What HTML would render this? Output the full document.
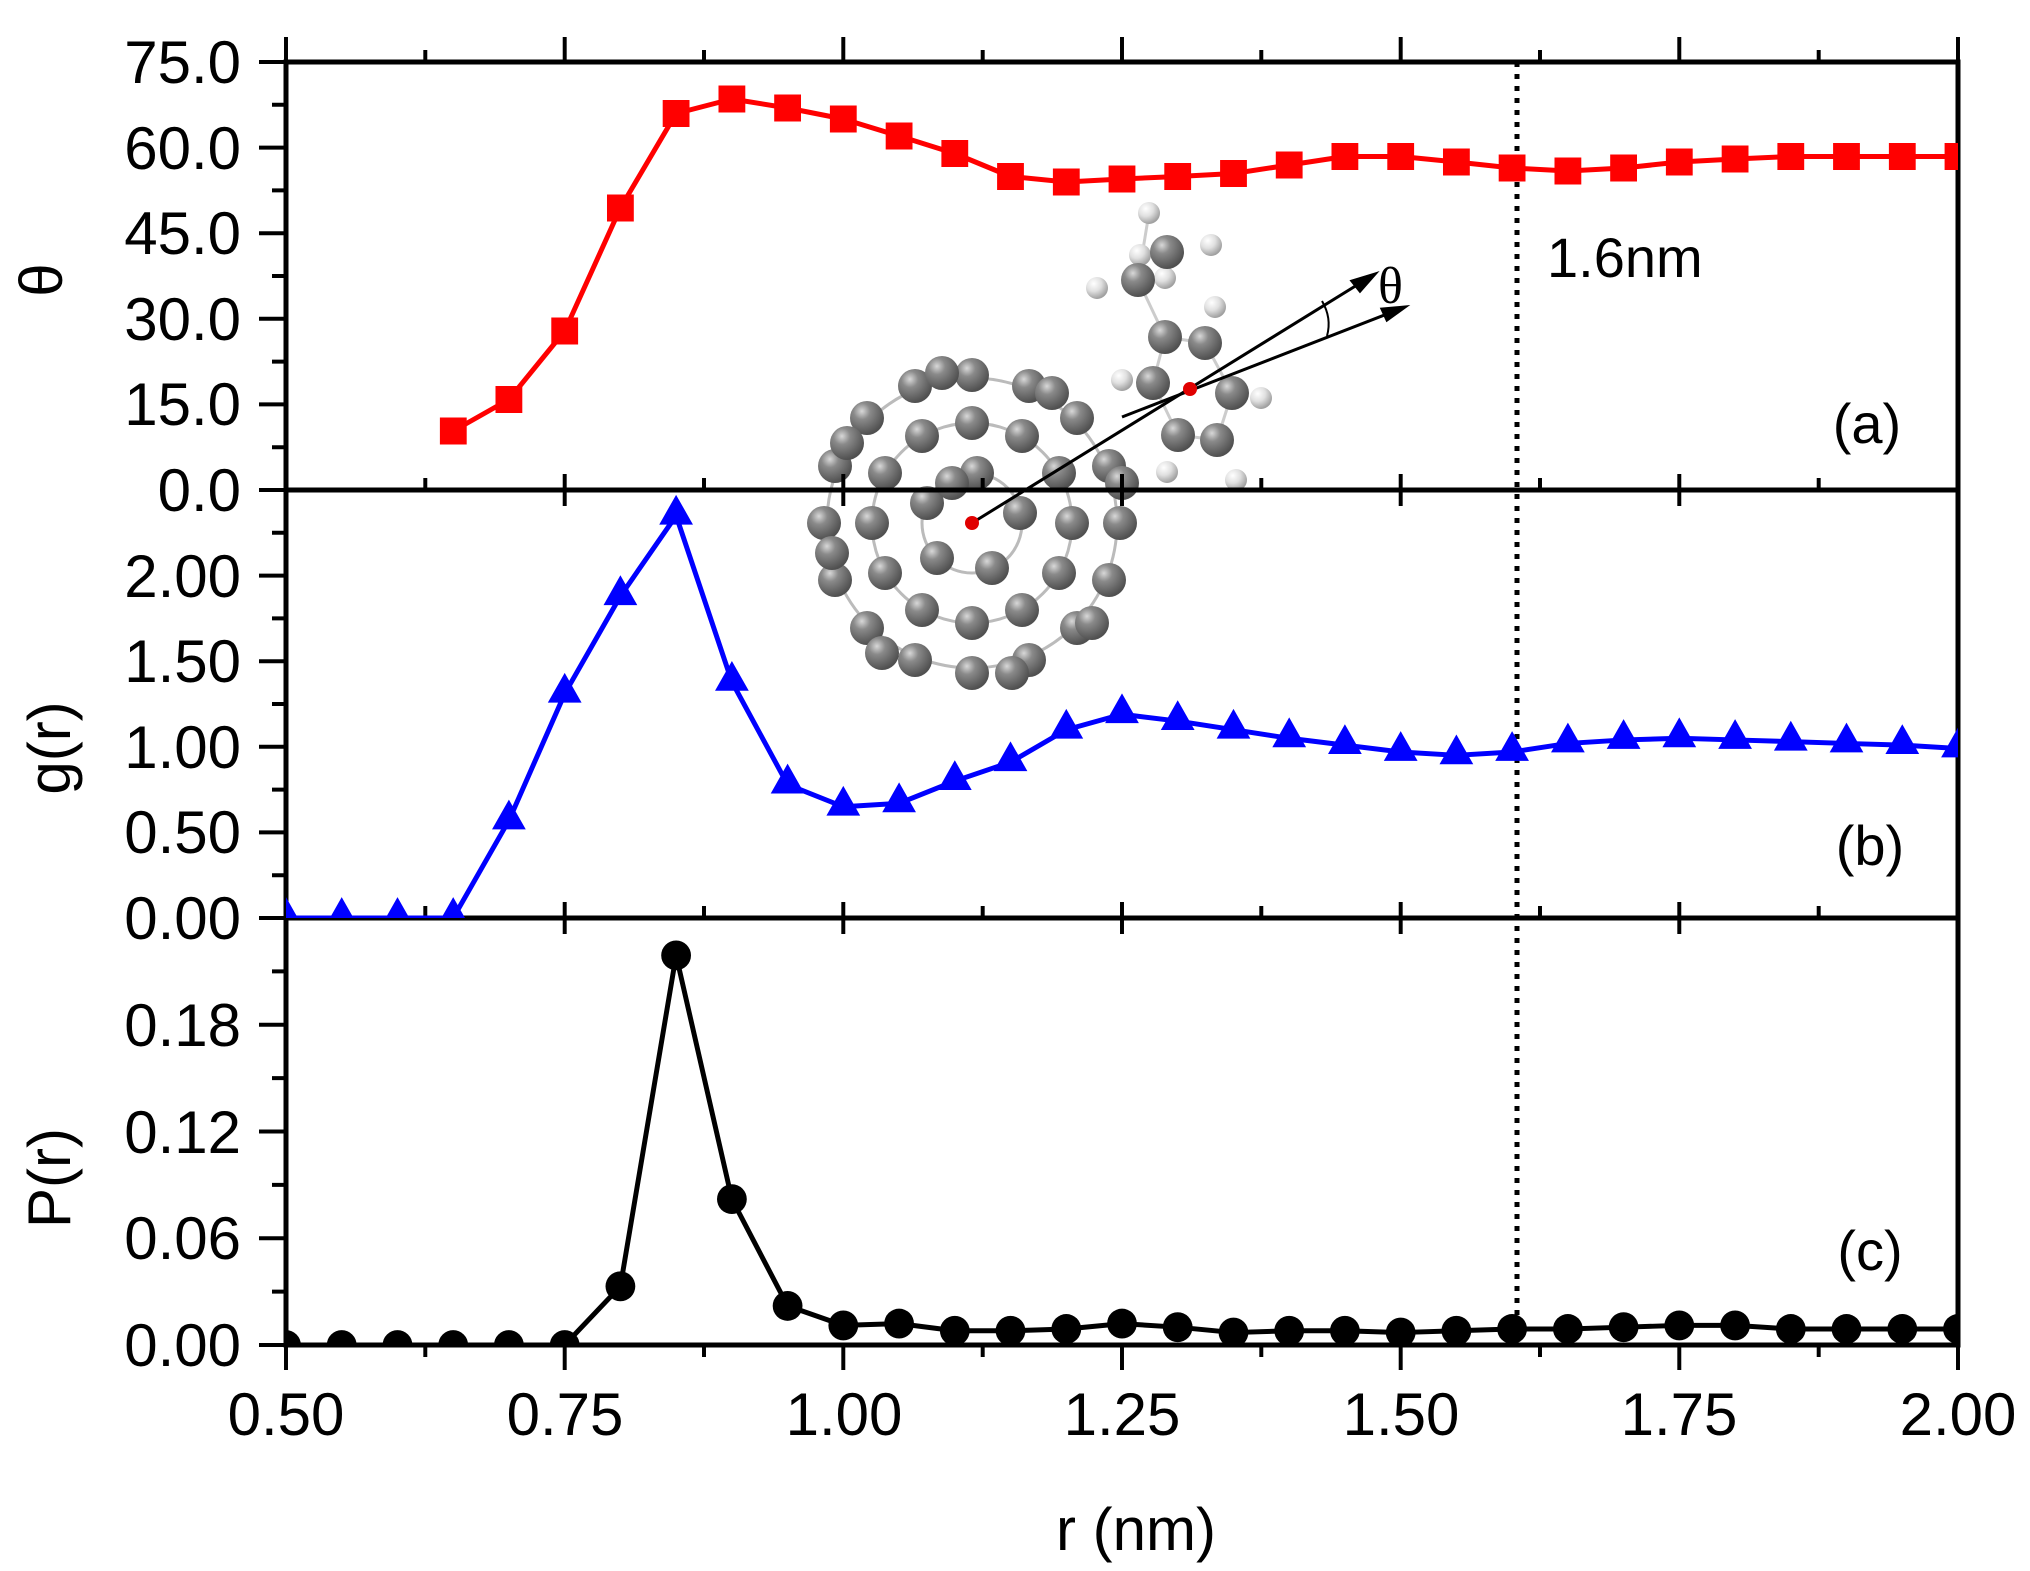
<!DOCTYPE html>
<html><head><meta charset="utf-8"><style>
html,body{margin:0;padding:0;background:#fff}
svg{display:block}
text{font-family:"Liberation Sans",sans-serif}
</style></head><body>
<svg width="2030" height="1571" viewBox="0 0 2030 1571" xmlns="http://www.w3.org/2000/svg">
<defs>
<radialGradient id="gc" cx="35%" cy="30%" r="70%"><stop offset="0" stop-color="#d8d8d8"/><stop offset="0.35" stop-color="#8a8a8a"/><stop offset="1" stop-color="#505050"/></radialGradient>
<radialGradient id="gh" cx="35%" cy="30%" r="70%"><stop offset="0" stop-color="#ffffff"/><stop offset="0.5" stop-color="#e0e0e0"/><stop offset="1" stop-color="#a0a0a0"/></radialGradient>
<circle id="b" r="17" fill="url(#gc)"/>
<circle id="h" r="11" fill="url(#gh)"/>
<clipPath id="ca"><rect x="286" y="62" width="1672" height="428"/></clipPath>
<clipPath id="cb"><rect x="286" y="490" width="1672" height="428"/></clipPath>
<clipPath id="cc"><rect x="286" y="918" width="1672" height="427"/></clipPath>
</defs>

<!-- fullerene -->
<g stroke="#bbb" stroke-width="3" fill="none">
<circle cx="972" cy="523" r="145"/><circle cx="972" cy="523" r="100"/><circle cx="972" cy="523" r="50"/>
</g>
<g transform="translate(972 523)">
<use href="#b" x="148" y="0"/><use href="#b" x="137" y="57"/><use href="#b" x="105" y="105"/><use href="#b" x="57" y="137"/><use href="#b" x="0" y="150"/><use href="#b" x="-57" y="137"/><use href="#b" x="-105" y="105"/><use href="#b" x="-137" y="57"/><use href="#b" x="-148" y="0"/><use href="#b" x="-137" y="-57"/><use href="#b" x="-105" y="-105"/><use href="#b" x="-57" y="-137"/><use href="#b" x="0" y="-148"/><use href="#b" x="57" y="-137"/><use href="#b" x="105" y="-105"/><use href="#b" x="137" y="-57"/>
<use href="#b" x="-125" y="-80"/><use href="#b" x="-140" y="30"/><use href="#b" x="-90" y="130"/><use href="#b" x="40" y="150"/><use href="#b" x="120" y="100"/><use href="#b" x="150" y="-40"/><use href="#b" x="80" y="-130"/><use href="#b" x="-30" y="-150"/>
<use href="#b" x="100" y="0"/><use href="#b" x="87" y="50"/><use href="#b" x="50" y="87"/><use href="#b" x="0" y="100"/><use href="#b" x="-50" y="87"/><use href="#b" x="-87" y="50"/><use href="#b" x="-100" y="0"/><use href="#b" x="-87" y="-50"/><use href="#b" x="-50" y="-87"/><use href="#b" x="0" y="-100"/><use href="#b" x="50" y="-87"/><use href="#b" x="87" y="-50"/>
<use href="#b" x="48" y="-10"/><use href="#b" x="20" y="45"/><use href="#b" x="-35" y="35"/><use href="#b" x="-45" y="-20"/><use href="#b" x="5" y="-50"/><use href="#b" x="-20" y="-40"/>
</g>
<!-- toluene -->
<g stroke="#ccc" stroke-width="3">
<line x1="1165" y1="337" x2="1138" y2="280"/><line x1="1165" y1="337" x2="1205" y2="343"/><line x1="1165" y1="337" x2="1153" y2="383"/><line x1="1153" y1="383" x2="1178" y2="435"/><line x1="1205" y1="343" x2="1232" y2="393"/><line x1="1232" y1="393" x2="1217" y2="440"/><line x1="1178" y1="435" x2="1217" y2="440"/><line x1="1138" y1="280" x2="1149" y2="213"/>
</g>
<use href="#h" x="1149" y="213"/><use href="#h" x="1211" y="245"/><use href="#h" x="1097" y="288"/><use href="#h" x="1140" y="255"/><use href="#h" x="1165" y="278"/><use href="#h" x="1215" y="307"/><use href="#h" x="1122" y="380"/><use href="#h" x="1261" y="398"/><use href="#h" x="1167" y="472"/><use href="#h" x="1236" y="480"/>
<use href="#b" x="1167" y="252"/><use href="#b" x="1138" y="280"/><use href="#b" x="1165" y="337"/><use href="#b" x="1205" y="343"/><use href="#b" x="1153" y="383"/><use href="#b" x="1232" y="393"/><use href="#b" x="1178" y="435"/><use href="#b" x="1217" y="440"/>
<g stroke="#000" stroke-width="3" fill="#000">
<line x1="972" y1="523" x2="1370" y2="277"/><polygon points="1375,274 1352,281 1360,291"/>
<line x1="1122" y1="417" x2="1400" y2="309"/><polygon points="1405,307 1382,309 1387,320"/>
</g>
<path d="M1322,301 Q1332,318 1327,336" stroke="#000" stroke-width="2" fill="none"/>
<circle cx="972" cy="523" r="7" fill="#e00000"/><circle cx="1190" cy="389" r="7" fill="#e00000"/>
<text x="1378" y="303" font-size="52" style="font-family:'Liberation Serif',serif">θ</text>

<!-- frame -->
<g stroke="#000" stroke-width="5" fill="none" stroke-linecap="square">
<rect x="286" y="62" width="1672" height="1283"/>
<line x1="286" y1="490" x2="1958" y2="490"/><line x1="286" y1="918" x2="1958" y2="918"/>
</g>
<g stroke="#000" stroke-width="4" transform="translate(286 0) scale(0.99287 1) translate(-286 0)">
<path d="M286,62V37M566.7,62V37M847.3,62V37M1128,62V37M1408.7,62V37M1689.3,62V37M1970,62V37M426.3,62V50M707,62V50M987.7,62V50M1268.3,62V50M1549,62V50M1829.7,62V50"/>
<path d="M566.7,474V506M847.3,474V506M1128,474V506M1408.7,474V506M1689.3,474V506M426.3,490V478M707,490V478M987.7,490V478M1268.3,490V478M1549,490V478M1829.7,490V478"/>
<path d="M566.7,902V934M847.3,902V934M1128,902V934M1408.7,902V934M1689.3,902V934M426.3,918V906M707,918V906M987.7,918V906M1268.3,918V906M1549,918V906M1829.7,918V906"/>
<path d="M286,1345V1370M566.7,1345V1370M847.3,1345V1370M1128,1345V1370M1408.7,1345V1370M1689.3,1345V1370M1970,1345V1370M426.3,1345V1357M707,1345V1357M987.7,1345V1357M1268.3,1345V1357M1549,1345V1357M1829.7,1345V1357"/>
</g>
<g stroke="#000" stroke-width="4">
<path d="M286,62H259M286,147.6H259M286,233.2H259M286,318.8H259M286,404.4H259M286,490H259M286,104.8H272M286,190.4H272M286,276H272M286,361.6H272M286,447.2H272"/>
<path d="M286,918H259M286,832.4H259M286,746.8H259M286,661.2H259M286,575.6H259M286,875.2H272M286,789.6H272M286,704H272M286,618.4H272M286,532.8H272"/>
<path d="M286,1345H259M286,1238.25H259M286,1131.5H259M286,1024.75H259M286,1291.6H272M286,1184.9H272M286,1078.1H272M286,971.4H272"/>
</g>

<line x1="1517" y1="62" x2="1517" y2="1345" stroke="#000" stroke-width="5" stroke-dasharray="5,7"/>
<text x="1547" y="277" font-size="56">1.6nm</text>

<g font-size="60" text-anchor="end">
<text x="241" y="83">75.0</text><text x="241" y="169">60.0</text><text x="241" y="254">45.0</text><text x="241" y="340">30.0</text><text x="241" y="425">15.0</text><text x="241" y="511">0.0</text>
<text x="241" y="597">2.00</text><text x="241" y="682">1.50</text><text x="241" y="768">1.00</text><text x="241" y="853">0.50</text><text x="241" y="939">0.00</text>
<text x="241" y="1046">0.18</text><text x="241" y="1153">0.12</text><text x="241" y="1259">0.06</text><text x="241" y="1366">0.00</text>
</g>
<g font-size="60" text-anchor="middle">
<text x="286" y="1435">0.50</text><text x="565" y="1435">0.75</text><text x="844" y="1435">1.00</text><text x="1122" y="1435">1.25</text><text x="1401" y="1435">1.50</text><text x="1679" y="1435">1.75</text><text x="1958" y="1435">2.00</text>
</g>
<text x="1136" y="1550" font-size="60" text-anchor="middle">r (nm)</text>
<text transform="translate(62 280) rotate(-90)" font-size="60" text-anchor="middle">θ</text>
<text transform="translate(70 748) rotate(-90)" font-size="60" text-anchor="middle">g(r)</text>
<text transform="translate(70 1178) rotate(-90)" font-size="60" text-anchor="middle">P(r)</text>
<g font-size="56" text-anchor="middle">
<text x="1867" y="443">(a)</text><text x="1870" y="865">(b)</text><text x="1870" y="1270">(c)</text>
</g>

<!-- series a -->
<g clip-path="url(#ca)"><g transform="translate(286 0) scale(0.99287 1) translate(-286 0)">
<polyline fill="none" stroke="#ff0000" stroke-width="5" stroke-linejoin="round" points="454.4,431 510.5,399.5 566.7,331 622.8,208 678.9,113.5 735.1,99 791.2,108 847.3,119 903.5,136 959.6,153.5 1015.7,176.5 1071.9,182 1128,179 1184.1,176.5 1240.3,173.5 1296.4,165 1352.5,156.5 1408.7,156.5 1464.8,162 1520.9,168 1577.1,171 1633.2,168 1689.3,162 1745.5,159 1801.6,156.5 1857.7,156.5 1913.9,156.5 1970,156.5"/>
<g fill="#ff0000">
<rect x="441" y="417.5" width="27" height="27"/><rect x="497" y="386" width="27" height="27"/><rect x="553.2" y="317.5" width="27" height="27"/><rect x="609.3" y="194.5" width="27" height="27"/><rect x="665.4" y="100" width="27" height="27"/><rect x="721.6" y="85.5" width="27" height="27"/><rect x="777.7" y="94.5" width="27" height="27"/><rect x="833.8" y="105.5" width="27" height="27"/><rect x="890" y="122.5" width="27" height="27"/><rect x="946.1" y="140" width="27" height="27"/><rect x="1002.2" y="163" width="27" height="27"/><rect x="1058.4" y="168.5" width="27" height="27"/><rect x="1114.5" y="165.5" width="27" height="27"/><rect x="1170.6" y="163" width="27" height="27"/><rect x="1226.8" y="160" width="27" height="27"/><rect x="1282.9" y="151.5" width="27" height="27"/><rect x="1339" y="143" width="27" height="27"/><rect x="1395.2" y="143" width="27" height="27"/><rect x="1451.3" y="148.5" width="27" height="27"/><rect x="1507.4" y="154.5" width="27" height="27"/><rect x="1563.6" y="157.5" width="27" height="27"/><rect x="1619.7" y="154.5" width="27" height="27"/><rect x="1675.8" y="148.5" width="27" height="27"/><rect x="1732" y="145.5" width="27" height="27"/><rect x="1788.1" y="143" width="27" height="27"/><rect x="1844.2" y="143" width="27" height="27"/><rect x="1900.4" y="143" width="27" height="27"/><rect x="1956.5" y="143" width="27" height="27"/>
</g></g></g>

<!-- series b -->
<g clip-path="url(#cb)"><g transform="translate(286 918) scale(0.99287 0.99246) translate(-286 -921)">
<polyline fill="none" stroke="#0000ff" stroke-width="5" stroke-linejoin="round" points="286,921 342.1,921 398.3,921 454.4,921 510.5,822.7 566.7,695 622.8,596.7 678.9,515.6 735.1,683 791.2,786.5 847.3,808.9 903.5,805.4 959.6,783 1015.7,764 1071.9,731.3 1128,715.7 1184.1,722.6 1240.3,731.3 1296.4,739.9 1352.5,746.8 1408.7,753.7 1464.8,757.1 1520.9,753.7 1577.1,745.1 1633.2,741.6 1689.3,739.9 1745.5,741.6 1801.6,743.3 1857.7,745.1 1913.9,746.8 1970,750.2"/>
<path fill="#0000ff" d="M286,900l17,30h-34z M342.1,900l17,30h-34z M398.3,900l17,30h-34z M454.4,900l17,30h-34z M510.5,801.7l17,30h-34z M566.7,674l17,30h-34z M622.8,575.7l17,30h-34z M678.9,494.6l17,30h-34z M735.1,662l17,30h-34z M791.2,765.5l17,30h-34z M847.3,787.9l17,30h-34z M903.5,784.4l17,30h-34z M959.6,762l17,30h-34z M1015.7,743l17,30h-34z M1071.9,710.3l17,30h-34z M1128,694.7l17,30h-34z M1184.1,701.6l17,30h-34z M1240.3,710.3l17,30h-34z M1296.4,718.9l17,30h-34z M1352.5,725.8l17,30h-34z M1408.7,732.7l17,30h-34z M1464.8,736.1l17,30h-34z M1520.9,732.7l17,30h-34z M1577.1,724.1l17,30h-34z M1633.2,720.6l17,30h-34z M1689.3,718.9l17,30h-34z M1745.5,720.6l17,30h-34z M1801.6,722.3l17,30h-34z M1857.7,724.1l17,30h-34z M1913.9,725.8l17,30h-34z M1970,729.2l17,30h-34z"/>
</g></g>

<!-- series c -->
<g clip-path="url(#cc)"><g transform="translate(286 1345) scale(0.99287 0.99497) translate(-286 -1350)">
<polyline fill="none" stroke="#000" stroke-width="5" stroke-linejoin="round" points="286,1350 342.1,1350 398.3,1350 454.4,1350 510.5,1350 566.7,1350 622.8,1291 678.9,958.4 735.1,1203.4 791.2,1310.7 847.3,1330.3 903.5,1328.5 959.6,1335.7 1015.7,1335.7 1071.9,1333.9 1128,1328.5 1184.1,1332.1 1240.3,1337.5 1296.4,1335.7 1352.5,1335.7 1408.7,1337.5 1464.8,1335.7 1520.9,1333.9 1577.1,1333.9 1633.2,1332.1 1689.3,1330.3 1745.5,1330.3 1801.6,1333.9 1857.7,1333.9 1913.9,1333.9 1970,1333.9"/>
<g fill="#000">
<circle cx="286" cy="1350" r="15"/><circle cx="342.1" cy="1350" r="15"/><circle cx="398.3" cy="1350" r="15"/><circle cx="454.4" cy="1350" r="15"/><circle cx="510.5" cy="1350" r="15"/><circle cx="566.7" cy="1350" r="15"/><circle cx="622.8" cy="1291" r="15"/><circle cx="678.9" cy="958.4" r="15"/><circle cx="735.1" cy="1203.4" r="15"/><circle cx="791.2" cy="1310.7" r="15"/><circle cx="847.3" cy="1330.3" r="15"/><circle cx="903.5" cy="1328.5" r="15"/><circle cx="959.6" cy="1335.7" r="15"/><circle cx="1015.7" cy="1335.7" r="15"/><circle cx="1071.9" cy="1333.9" r="15"/><circle cx="1128" cy="1328.5" r="15"/><circle cx="1184.1" cy="1332.1" r="15"/><circle cx="1240.3" cy="1337.5" r="15"/><circle cx="1296.4" cy="1335.7" r="15"/><circle cx="1352.5" cy="1335.7" r="15"/><circle cx="1408.7" cy="1337.5" r="15"/><circle cx="1464.8" cy="1335.7" r="15"/><circle cx="1520.9" cy="1333.9" r="15"/><circle cx="1577.1" cy="1333.9" r="15"/><circle cx="1633.2" cy="1332.1" r="15"/><circle cx="1689.3" cy="1330.3" r="15"/><circle cx="1745.5" cy="1330.3" r="15"/><circle cx="1801.6" cy="1333.9" r="15"/><circle cx="1857.7" cy="1333.9" r="15"/><circle cx="1913.9" cy="1333.9" r="15"/><circle cx="1970" cy="1333.9" r="15"/>
</g></g></g>
</svg>
</body></html>
